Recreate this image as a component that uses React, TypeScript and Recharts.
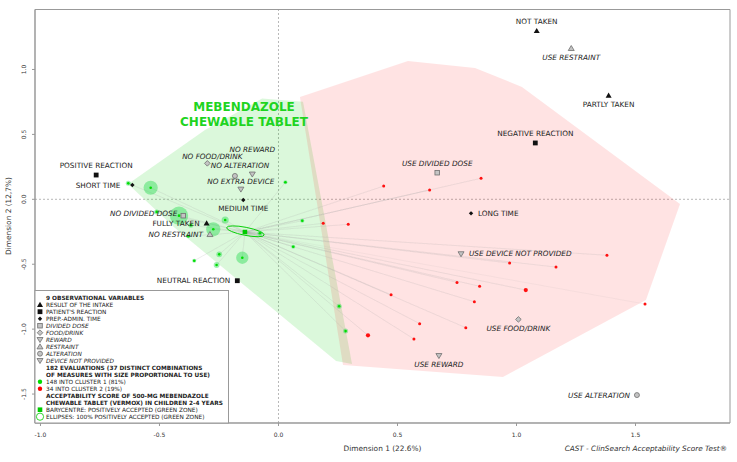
import React from "react";
import { ScatterChart, Scatter, XAxis, YAxis, ReferenceLine, ReferenceArea } from "recharts";

const xTicks = [-1, -0.5, 0, 0.5, 1, 1.5];
const yTicks = [-1.5, -1, -0.5, 0, 0.5, 1];

// observational variables (category coordinates)
const varNames = [
  "NOT TAKEN", "PARTLY TAKEN", "FULLY TAKEN",
  "NEGATIVE REACTION", "NEUTRAL REACTION", "POSITIVE REACTION",
  "SHORT TIME", "MEDIUM TIME", "LONG TIME",
  "USE DIVIDED DOSE", "NO DIVIDED DOSE",
  "USE FOOD/DRINK", "NO FOOD/DRINK",
  "USE REWARD", "NO REWARD",
  "USE RESTRAINT", "NO RESTRAINT",
  "USE ALTERATION", "NO ALTERATION",
  "USE DEVICE NOT PROVIDED", "NO EXTRA DEVICE",
];
const varGroups = [
  "intake", "intake", "intake",
  "reaction", "reaction", "reaction",
  "time", "time", "time",
  "divided", "divided",
  "food", "food",
  "reward", "reward",
  "restraint", "restraint",
  "alteration", "alteration",
  "device", "device",
];
const varDim1 = [1.085, 1.387, -0.302, 1.079, -0.173, -0.766, -0.614, -0.148, 0.809, 0.667, -0.4, 1.008, -0.299, 0.674, -0.11, 1.23, -0.288, 1.506, -0.183, 0.767, -0.158];
const varDim2 = [1.297, 0.8, -0.185, 0.434, -0.627, 0.187, 0.11, -0.005, -0.108, 0.205, -0.126, -0.925, 0.277, -1.205, 0.193, 1.163, -0.27, -1.508, 0.18, -0.421, 0.077];

// evaluations, cluster 1 (green) and cluster 2 (red), with number of uses
const c1Dim1 = [-0.631, -0.537, -0.512, -0.418, -0.368, -0.379, -0.274, -0.224, -0.078, 0.029, 0.1, 0.062, -0.249, -0.152, -0.26, -0.354, 0.255, 0.282];
const c1Dim2 = [0.123, 0.089, -0.097, -0.126, -0.2, -0.285, -0.231, -0.159, -0.262, 0.131, -0.165, -0.365, -0.424, -0.45, -0.506, -0.473, -0.824, -1.015];
const c1Uses = [3, 24, 3, 40, 3, 2, 24, 6, 3, 2, 2, 2, 4, 18, 4, 2, 3, 3];

const c2Dim1 = [0.442, 0.635, 0.851, 0.188, 0.293, 0.473, 0.75, 0.845, 0.823, 0.593, 0.787, 0.376, 0.569, 1.38, 0.971, 1.166, 1.039, 1.54];
const c2Dim2 = [0.102, 0.072, 0.162, -0.185, -0.193, -0.735, -0.64, -0.67, -0.789, -0.958, -0.989, -1.048, -1.076, -0.431, -0.491, -0.522, -0.699, -0.807];
const c2Uses = [2, 1, 2, 1, 2, 2, 2, 2, 2, 2, 2, 3, 2, 2, 1, 1, 3, 2];

const barycentre = [{ x: -0.141, y: -0.252 }];
// ellipse: both ends of the major axis, then one end of the minor axis
const ellipseDim1 = [-0.218, -0.06, -0.142];
const ellipseDim2 = [-0.218, -0.275, -0.216];

const greenHullDim1 = [-0.632, -0.309, -0.069, 0.103, 0.309, 0.242, -0.435];
const greenHullDim2 = [0.118, 0.534, 0.776, 0.752, -1.269, -1.246, -0.221];
const redHullDim1 = [0.09, 0.544, 0.826, 1.023, 1.687, 1.544, 0.943, 0.271];
const redHullDim2 = [0.788, 1.065, 1.012, 0.866, -0.036, -0.776, -1.369, -1.277];

const legendLines = [
  { text: "9 OBSERVATIONAL VARIABLES", bold: true },
  { text: "RESULT OF THE INTAKE", sym: "intake" },
  { text: "PATIENT'S REACTION", sym: "reaction" },
  { text: "PREP.-ADMIN. TIME", sym: "time" },
  { text: "DIVIDED DOSE", sym: "divided", italic: true },
  { text: "FOOD/DRINK", sym: "food", italic: true },
  { text: "REWARD", sym: "reward", italic: true },
  { text: "RESTRAINT", sym: "restraint", italic: true },
  { text: "ALTERATION", sym: "alteration", italic: true },
  { text: "DEVICE NOT PROVIDED", sym: "device", italic: true },
  { text: "182 EVALUATIONS (37 DISTINCT COMBINATIONS", bold: true },
  { text: "OF MEASURES WITH SIZE PROPORTIONAL TO USE)", bold: true },
  { text: "148 INTO CLUSTER 1 (81%)", sym: "green" },
  { text: "34 INTO CLUSTER 2 (19%)", sym: "red" },
  { text: "ACCEPTABILITY SCORE OF 500-MG MEBENDAZOLE", bold: true },
  { text: "CHEWABLE TABLET (VERMOX) IN CHILDREN 2-4 YEARS", bold: true },
  { text: "BARYCENTRE: POSITIVELY ACCEPTED (GREEN ZONE)", sym: "bary" },
  { text: "ELLIPSES: 100% POSITIVELY ACCEPTED (GREEN ZONE)", sym: "ellipse" },
];

const varPoints = varNames.map((name, i) => ({ name, group: varGroups[i], x: varDim1[i], y: varDim2[i] }));
const cluster1 = c1Dim1.map((x, i) => ({ x, y: c1Dim2[i], n: c1Uses[i] }));
const cluster2 = c2Dim1.map((x, i) => ({ x, y: c2Dim2[i], n: c2Uses[i] }));
const ellipsePts = ellipseDim1.map((x, i) => ({ x, y: ellipseDim2[i] }));
const greenHull = greenHullDim1.map((x, i) => ({ x, y: greenHullDim2[i] }));
const redHull = redHullDim1.map((x, i) => ({ x, y: redHullDim2[i] }));
const starPath = [...cluster1, ...cluster2].flatMap((p) => [barycentre[0], p]);

const FONT = "DejaVu Sans, Verdana, sans-serif";
const measureGroups = ["divided", "food", "reward", "restraint", "alteration", "device"];

// label placement [dx, dy, anchor]
const labelPlace: Record<string, [number, number, string]> = {
  "NOT TAKEN": [0, -9.5, "middle"],
  "PARTLY TAKEN": [0, 9, "middle"],
  "FULLY TAKEN": [-7, 0, "end"],
  "NEGATIVE REACTION": [0, -9.5, "middle"],
  "NEUTRAL REACTION": [-7, 0, "end"],
  "POSITIVE REACTION": [0, -9.5, "middle"],
  "SHORT TIME": [-12, 0, "end"],
  "MEDIUM TIME": [0, 9, "middle"],
  "LONG TIME": [7, 0, "start"],
  "USE DIVIDED DOSE": [0, -9.5, "middle"],
  "NO DIVIDED DOSE": [-6, -2.5, "end"],
  "USE FOOD/DRINK": [0, 9.5, "middle"],
  "NO FOOD/DRINK": [5, -6.8, "middle"],
  "USE REWARD": [0, 8.5, "middle"],
  "NO REWARD": [0, -25, "middle"],
  "USE RESTRAINT": [0, 9, "middle"],
  "NO RESTRAINT": [-7, 0, "end"],
  "USE ALTERATION": [-7, 0, "end"],
  "NO ALTERATION": [5, -10, "middle"],
  "USE DEVICE NOT PROVIDED": [8, 0, "start"],
  "NO EXTRA DEVICE": [0, -8, "middle"],
};

function Marker({ group, cx, cy }: { group: string; cx: number; cy: number }) {
  const dark = "#111";
  const gf = "#c4c4c4";
  const gs = "#6f6f6f";
  switch (group) {
    case "intake":
      return <polygon points={`${cx},${cy - 3} ${cx - 3},${cy + 2.2} ${cx + 3},${cy + 2.2}`} fill={dark} />;
    case "reaction":
      return <rect x={cx - 2.4} y={cy - 2.4} width={4.8} height={4.8} fill={dark} />;
    case "time":
      return <polygon points={`${cx},${cy - 2.2} ${cx + 2.2},${cy} ${cx},${cy + 2.2} ${cx - 2.2},${cy}`} fill={dark} />;
    case "divided":
      return <rect x={cx - 2.3} y={cy - 2.3} width={4.6} height={4.6} fill={gf} stroke={gs} strokeWidth={0.8} />;
    case "food":
      return <polygon points={`${cx},${cy - 2.8} ${cx + 2.8},${cy} ${cx},${cy + 2.8} ${cx - 2.8},${cy}`} fill={gf} stroke={gs} strokeWidth={0.8} />;
    case "reward":
    case "device":
      return <polygon points={`${cx - 3},${cy - 2.2} ${cx + 3},${cy - 2.2} ${cx},${cy + 2.8}`} fill={gf} stroke={gs} strokeWidth={0.8} />;
    case "restraint":
      return <polygon points={`${cx},${cy - 2.8} ${cx - 3},${cy + 2.2} ${cx + 3},${cy + 2.2}`} fill={gf} stroke={gs} strokeWidth={0.8} />;
    case "alteration":
      return <circle cx={cx} cy={cy} r={2.5} fill={gf} stroke={gs} strokeWidth={0.8} />;
    case "green":
      return <circle cx={cx} cy={cy} r={2.2} fill="#00dd00" />;
    case "red":
      return <circle cx={cx} cy={cy} r={2.2} fill="#ff0000" />;
    case "bary":
      return <rect x={cx - 2.3} y={cy - 2.3} width={4.6} height={4.6} fill="#00cc00" />;
    case "ellipse":
      return <circle cx={cx} cy={cy} r={3.6} fill="none" stroke="#00cc00" strokeWidth={0.8} />;
    default:
      return null;
  }
}

const noDot = () => <g />;

const polygonLine = (fill: string) => (p: any) => (
  <polygon points={(p.points || []).map((q: any) => `${q.x},${q.y}`).join(" ")} fill={fill} stroke="none" />
);

const ellipseLine = (p: any) => {
  const pts = p.points || [];
  if (pts.length < 3) return <g />;
  const [a, b, c] = pts;
  const cx = (a.x + b.x) / 2;
  const cy = (a.y + b.y) / 2;
  const rx = Math.hypot(b.x - a.x, b.y - a.y) / 2;
  const ry = Math.hypot(c.x - cx, c.y - cy);
  const ang = (Math.atan2(b.y - a.y, b.x - a.x) * 180) / Math.PI;
  return (
    <ellipse cx={cx} cy={cy} rx={rx} ry={ry} transform={`rotate(${ang} ${cx} ${cy})`} fill="none" stroke="#00cc00" strokeWidth={0.9} />
  );
};

const GreenDot = (props: any) => {
  const { cx, cy, payload } = props;
  const r = 1.45 * Math.sqrt(payload.n);
  return (
    <g>
      <circle cx={cx} cy={cy} r={r} fill="#1ed84a" fillOpacity={0.42} />
      <circle cx={cx} cy={cy} r={1.3} fill="#00dd00" />
    </g>
  );
};

const RedDot = (props: any) => {
  const { cx, cy, payload } = props;
  return <circle cx={cx} cy={cy} r={payload.n >= 3 ? 2.1 : 1.5} fill="#ff1010" />;
};

const BaryDot = (props: any) => <Marker group="bary" cx={props.cx} cy={props.cy} />;

const VarDot = (props: any) => {
  const { cx, cy, payload } = props;
  const [dx, dy, anchor] = labelPlace[payload.name] || [0, -9, "middle"];
  const italic = measureGroups.includes(payload.group);
  return (
    <g>
      <Marker group={payload.group} cx={cx} cy={cy} />
      <text
        x={cx + dx}
        y={cy + dy}
        textAnchor={anchor as any}
        dominantBaseline="central"
        fontFamily={FONT}
        fontSize={7.3}
        fontStyle={italic ? "italic" : "normal"}
        fill="#222"
      >
        {payload.name}
      </text>
    </g>
  );
};

const XTick = (props: any) => {
  const { x, payload } = props;
  return (
    <text x={x} y={434} textAnchor="middle" dominantBaseline="central" fontFamily={FONT} fontSize={6} fill="#333">
      {Number(payload.value).toFixed(1)}
    </text>
  );
};

const YTick = (props: any) => {
  const { y, payload } = props;
  return (
    <text
      x={23.5}
      y={y}
      textAnchor="middle"
      dominantBaseline="central"
      transform={`rotate(-90 23.5 ${y})`}
      fontFamily={FONT}
      fontSize={6}
      fill="#333"
    >
      {Number(payload.value).toFixed(1)}
    </text>
  );
};

function Overlay() {
  const top = 297.7;
  return (
    <svg width={737} height={462} style={{ position: "absolute", left: 0, top: 0, pointerEvents: "none" }}>
      <text x={244} y={107} textAnchor="middle" dominantBaseline="central" fontFamily={FONT} fontWeight="bold" fontSize={12} fill="#1fd41f">
        MEBENDAZOLE
      </text>
      <text x={244} y={122} textAnchor="middle" dominantBaseline="central" fontFamily={FONT} fontWeight="bold" fontSize={12} fill="#1fd41f">
        CHEWABLE TABLET
      </text>
      <text x={382.5} y={448} textAnchor="middle" dominantBaseline="central" fontFamily={FONT} fontSize={7.4} fill="#333">
        Dimension 1 (22.6%)
      </text>
      <text x={8} y={216} textAnchor="middle" dominantBaseline="central" transform="rotate(-90 8 216)" fontFamily={FONT} fontSize={7.4} fill="#333">
        Dimension 2 (12,7%)
      </text>
      <text x={727} y={448} textAnchor="end" dominantBaseline="central" fontFamily={FONT} fontStyle="italic" fontSize={7.3} fill="#333">
        CAST - ClinSearch Acceptability Score Test®
      </text>
      <rect x={35} y={290.5} width={193.5} height={132.5} fill="#fff" stroke="#999" strokeWidth={1} />
      {legendLines.map((l, i) => {
        const y = top + i * 7;
        return (
          <g key={i}>
            {l.sym ? <Marker group={l.sym} cx={40} cy={y} /> : null}
            <text
              x={46}
              y={y}
              dominantBaseline="central"
              fontFamily={FONT}
              fontSize={5.8}
              fontWeight={l.bold ? "bold" : "normal"}
              fontStyle={l.italic ? "italic" : "normal"}
              fill="#222"
            >
              {l.text}
            </text>
          </g>
        );
      })}
    </svg>
  );
}

export default function App() {
  return (
    <div style={{ position: "absolute", left: 0, top: 0, width: 737, height: 462, background: "#fff" }}>
      <ScatterChart width={737} height={462} margin={{ top: 9.5, right: 7, bottom: 19, left: 15 }}>
        <XAxis
          type="number"
          dataKey="x"
          domain={[-1.023, 1.897]}
          ticks={xTicks}
          interval={0}
          allowDataOverflow
          height={20}
          tickSize={3}
          tick={XTick}
          axisLine={{ stroke: "#999" }}
          tickLine={{ stroke: "#999" }}
        />
        <YAxis
          type="number"
          dataKey="y"
          domain={[-1.723, 1.462]}
          ticks={yTicks}
          interval={0}
          allowDataOverflow
          width={20}
          tickSize={3}
          tick={YTick}
          axisLine={{ stroke: "#999" }}
          tickLine={{ stroke: "#999" }}
        />
        <Scatter data={greenHull} shape={noDot} line={polygonLine("rgba(0,205,0,0.14)")} isAnimationActive={false} />
        <Scatter data={redHull} shape={noDot} line={polygonLine("rgba(255,0,0,0.11)")} isAnimationActive={false} />
        <ReferenceLine x={0} stroke="#9a9a9a" strokeDasharray="2 2" strokeWidth={0.7} />
        <ReferenceLine y={0} stroke="#9a9a9a" strokeDasharray="2 2" strokeWidth={0.7} />
        <Scatter data={starPath} shape={noDot} line={{ stroke: "#aaaaaa", strokeWidth: 0.4, strokeOpacity: 0.28 }} isAnimationActive={false} />
        <Scatter data={ellipsePts} shape={noDot} line={ellipseLine} isAnimationActive={false} />
        <Scatter data={cluster1} shape={GreenDot} isAnimationActive={false} />
        <Scatter data={cluster2} shape={RedDot} isAnimationActive={false} />
        <Scatter data={barycentre} shape={BaryDot} isAnimationActive={false} />
        <Scatter data={varPoints} shape={VarDot} isAnimationActive={false} />
        <ReferenceArea x1={-1.023} x2={1.897} y1={-1.723} y2={1.462} fill="none" stroke="#999" strokeWidth={1} />
      </ScatterChart>
      <Overlay />
    </div>
  );
}
